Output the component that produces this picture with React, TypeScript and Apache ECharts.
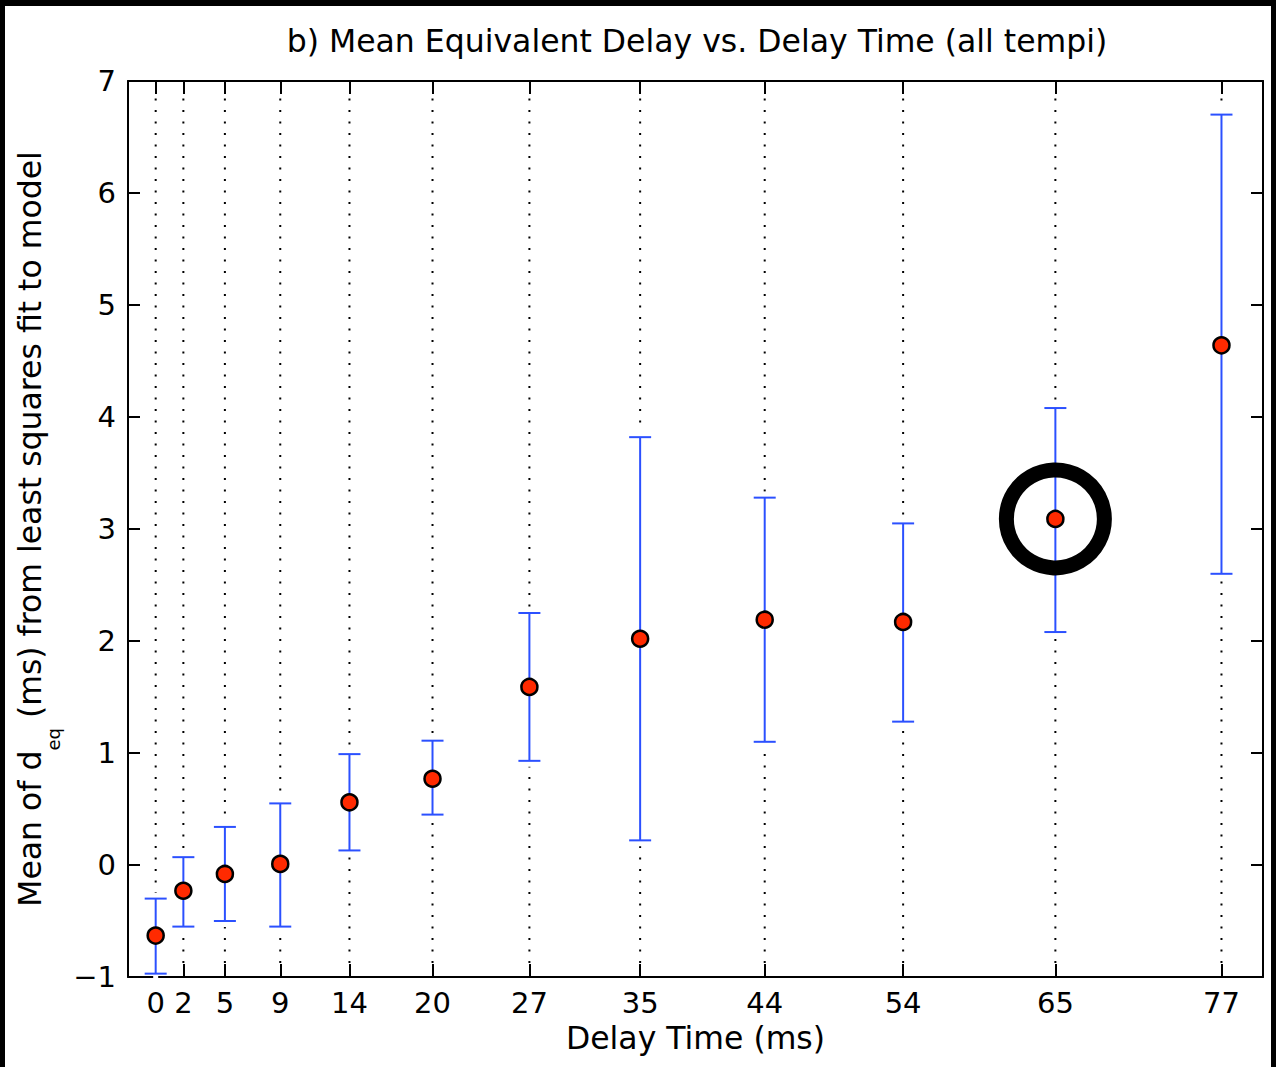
import React, { useEffect, useRef } from "react";
import * as echarts from "echarts";

const delays = [0, 2, 5, 9, 14, 20, 27, 35, 44, 54, 65, 77];
const means = [-0.63, -0.23, -0.08, 0.01, 0.56, 0.77, 1.59, 2.02, 2.19, 2.17, 3.09, 4.64];
const upper = [-0.3, 0.07, 0.34, 0.55, 0.99, 1.11, 2.25, 3.82, 3.28, 3.05, 4.08, 6.7];
const lower = [-0.97, -0.55, -0.5, -0.55, 0.13, 0.45, 0.93, 0.22, 1.1, 1.28, 2.08, 2.6];
const highlighted = [65];

const X_MIN = -2;
const X_MAX = 80;
const Y_MIN = -1;
const Y_MAX = 7;

const FONT = "DejaVu Sans";

export default function App() {
  const ref = useRef<HTMLDivElement>(null);
  useEffect(() => {
    document.body.style.margin = "0";
    const chart = echarts.init(ref.current!, null, { renderer: "svg" });
    const errData = delays.map((d, i) => [d, lower[i], upper[i]]);
    const ptData = delays.map((d, i) => [d, means[i]]);
    const ringData = highlighted.map((d) => [d, means[delays.indexOf(d)]]);
    const fmtY = (v: number) => (v < 0 ? "\u2212" + Math.abs(v) : String(v));
    chart.setOption({
      animation: false,
      backgroundColor: "#fff",
      title: {
        text: "b) Mean Equivalent Delay vs. Delay Time (all tempi)",
        left: 697,
        top: 25,
        padding: 0,
        textAlign: "center",
        textStyle: { fontFamily: FONT, fontSize: 31.5, fontWeight: "normal", color: "#000" },
      },
      grid: { left: 128, top: 81, right: 13, bottom: 90, containLabel: false },
      xAxis: [
        {
          type: "value",
          min: X_MIN,
          max: X_MAX,
          position: "bottom",
          name: "Delay Time (ms)",
          nameLocation: "middle",
          nameGap: 45,
          nameTextStyle: { fontFamily: FONT, fontSize: 31.5, color: "#000" },
          axisLine: { show: true, onZero: false, lineStyle: { color: "#000", width: 2 } },
          axisTick: { show: true, inside: true, length: 13, customValues: delays, lineStyle: { color: "#000", width: 2 } },
          axisLabel: { show: true, customValues: delays, fontFamily: FONT, fontSize: 29, color: "#000", margin: 11 },
          splitLine: { show: false },
        },
        {
          type: "value",
          min: X_MIN,
          max: X_MAX,
          position: "top",
          axisLine: { show: true, onZero: false, lineStyle: { color: "#000", width: 2 } },
          axisTick: { show: true, inside: true, length: 13, customValues: delays, lineStyle: { color: "#000", width: 2 } },
          axisLabel: { show: false },
          splitLine: { show: false },
        },
      ],
      yAxis: [
        {
          type: "value",
          min: Y_MIN,
          max: Y_MAX,
          interval: 1,
          position: "left",
          name: "{a|Mean of d}{s|eq}{a| (ms) from least squares fit to model}",
          nameLocation: "middle",
          nameGap: 68,
          nameTextStyle: {
            fontFamily: FONT,
            fontSize: 31.5,
            color: "#000",
            rich: {
              a: { fontFamily: FONT, fontSize: 31.5, color: "#000", verticalAlign: "top", lineHeight: 36 },
              s: { fontFamily: FONT, fontSize: 18, color: "#000", verticalAlign: "top", lineHeight: 18, padding: [30, 0, 0, 0] },
            },
          },
          axisLine: { show: true, onZero: false, lineStyle: { color: "#000", width: 2 } },
          axisTick: { show: true, inside: true, length: 12, lineStyle: { color: "#000", width: 2 } },
          axisLabel: { show: true, fontFamily: FONT, fontSize: 29, color: "#000", margin: 12, formatter: fmtY },
          splitLine: { show: false },
        },
        {
          type: "value",
          min: Y_MIN,
          max: Y_MAX,
          interval: 1,
          position: "right",
          axisLine: { show: true, onZero: false, lineStyle: { color: "#000", width: 2 } },
          axisTick: { show: true, inside: true, length: 12, lineStyle: { color: "#000", width: 2 } },
          axisLabel: { show: false },
          splitLine: { show: false },
        },
      ],
      series: [
        {
          type: "custom",
          name: "grid",
          z: 1,
          silent: true,
          data: delays.map((d) => [d]),
          encode: { x: 0 },
          renderItem: (params: any, api: any) => {
            const x = api.value(0);
            const p1 = api.coord([x, Y_MIN]);
            const p2 = api.coord([x, Y_MAX]);
            return {
              type: "line",
              shape: { x1: p1[0], y1: p1[1] - 14, x2: p2[0], y2: p2[1] + 14 },
              style: { stroke: "#000", lineWidth: 2, lineDash: [2, 9.5] },
            };
          },
        },
        {
          type: "custom",
          name: "errors",
          z: 2,
          silent: true,
          data: errData,
          encode: { x: 0, y: [1, 2] },
          renderItem: (params: any, api: any) => {
            const x = api.value(0);
            const lo = api.coord([x, api.value(1)]);
            const hi = api.coord([x, api.value(2)]);
            const w = 11;
            const st = { stroke: "#2b50ff", lineWidth: 2 };
            return {
              type: "group",
              children: [
                { type: "rect", shape: { x: lo[0] - 2.5, y: hi[1] - 6, width: 5, height: lo[1] - hi[1] + 12 }, style: { fill: "#fff" } },
                { type: "line", shape: { x1: lo[0], y1: lo[1], x2: hi[0], y2: hi[1] }, style: st },
                { type: "line", shape: { x1: lo[0] - w, y1: lo[1], x2: lo[0] + w, y2: lo[1] }, style: st },
                { type: "line", shape: { x1: hi[0] - w, y1: hi[1], x2: hi[0] + w, y2: hi[1] }, style: st },
              ],
            };
          },
        },
        {
          type: "scatter",
          name: "highlight",
          z: 3,
          silent: true,
          data: ringData,
          symbol: "circle",
          symbolSize: 98,
          itemStyle: { color: "rgba(255,255,255,0)", borderColor: "#000", borderWidth: 15, opacity: 1 },
        },
        {
          type: "scatter",
          name: "mean",
          z: 4,
          data: ptData,
          symbol: "circle",
          symbolSize: 16,
          itemStyle: { color: "#ff2a00", borderColor: "#000", borderWidth: 2.5, opacity: 1 },
        },
      ],
      graphic: [
        { type: "rect", shape: { x: 0, y: 0, width: 1276, height: 6 }, style: { fill: "#000" }, z: 100 },
        { type: "rect", shape: { x: 0, y: 0, width: 5, height: 1067 }, style: { fill: "#000" }, z: 100 },
        { type: "rect", shape: { x: 1271, y: 0, width: 5, height: 1067 }, style: { fill: "#000" }, z: 100 },
      ],
    });
    return () => chart.dispose();
  }, []);
  return <div ref={ref} style={{ width: 1276, height: 1067, position: "absolute", left: 0, top: 0 }} />;
}
